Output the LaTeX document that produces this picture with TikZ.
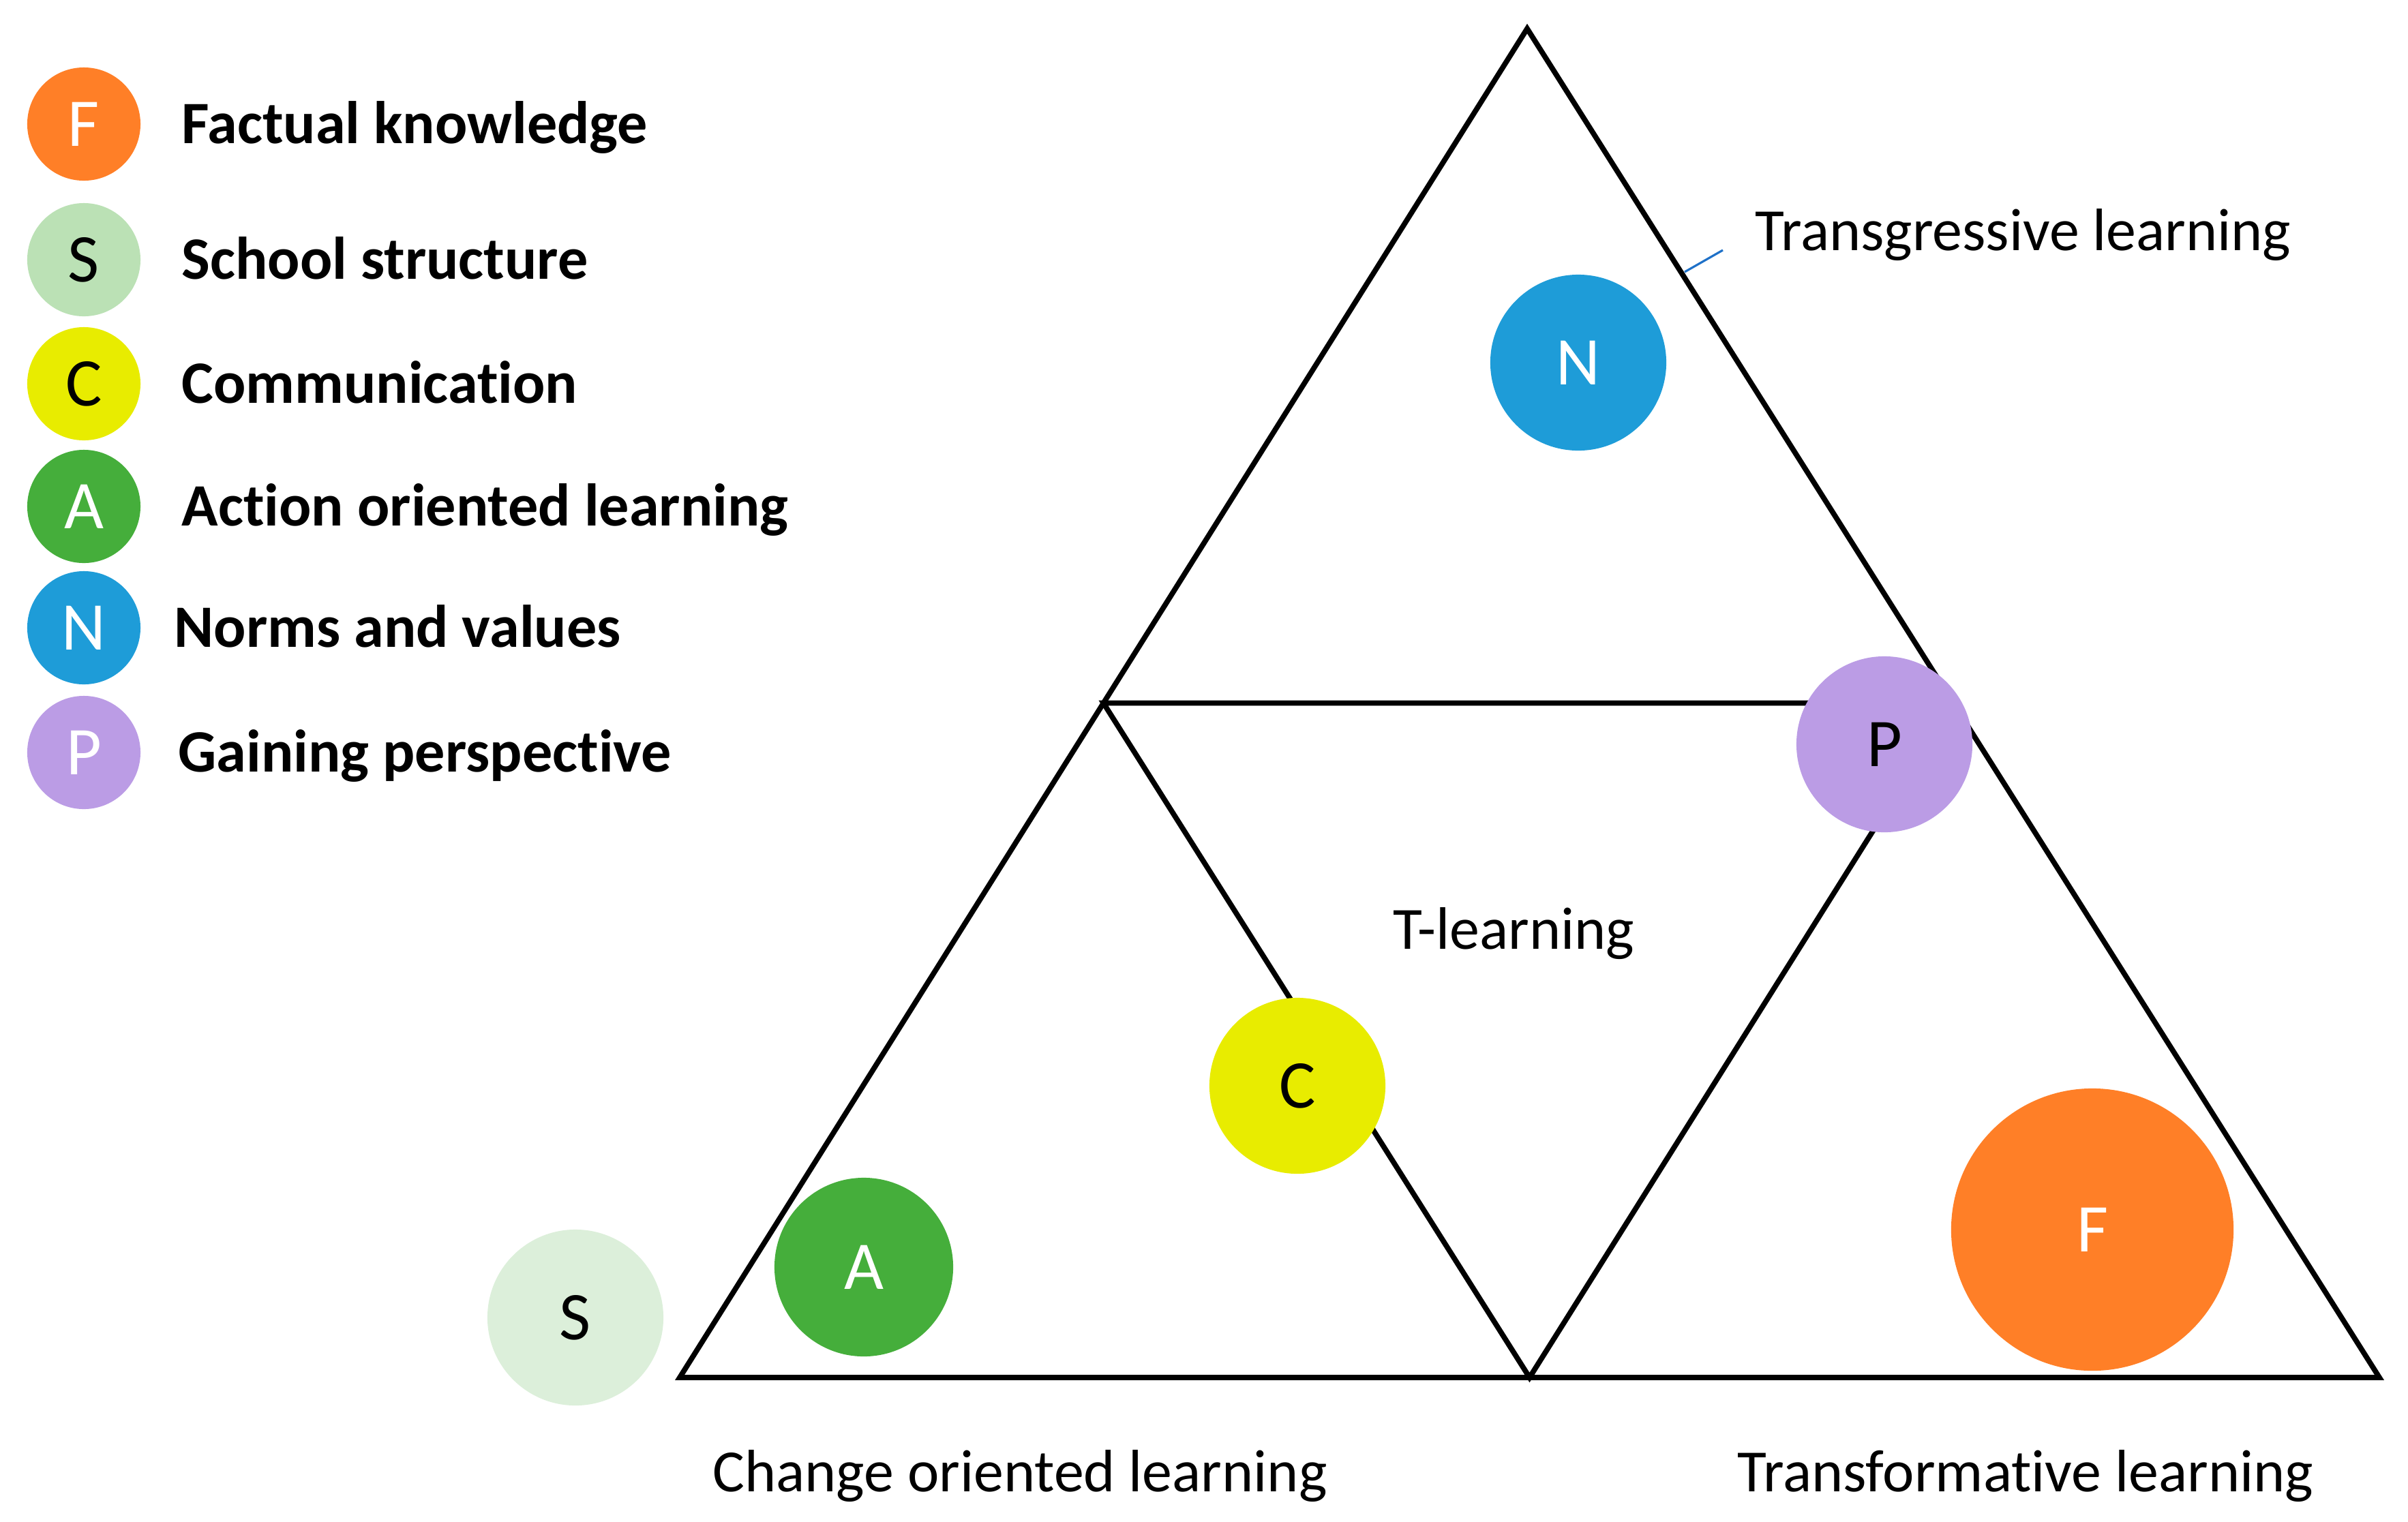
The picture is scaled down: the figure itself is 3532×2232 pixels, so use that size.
\documentclass[tikz,border=0pt]{standalone}
\usepackage{fontspec}
\setmainfont{Carlito}[Ligatures=NoCommon]
\definecolor{forange}{RGB}{255,127,39}
\definecolor{sgreenL}{RGB}{187,225,181}
\definecolor{sgreenP}{RGB}{220,239,218}
\definecolor{cyellow}{RGB}{232,236,0}
\definecolor{agreen}{RGB}{69,174,59}
\definecolor{nblue}{RGB}{30,156,216}
\definecolor{ppurple}{RGB}{187,156,229}
\definecolor{calloutblue}{RGB}{31,113,200}
\begin{document}
\begin{tikzpicture}[x=0.01cm,y=-0.01cm,
  dot/.style={circle, inner sep=0pt, font=\fontsize{28.5pt}{34pt}\selectfont},
  legdot/.style={dot, minimum size=1.66cm},
  lbl/.style={font=\fontsize{25pt}{30pt}\selectfont, inner sep=0pt, anchor=base west},
  legtxt/.style={font=\fontsize{25.1pt}{30pt}\selectfont\bfseries, inner sep=0pt, anchor=base west},
  tri/.style={line width=2.2pt, line join=miter}]
\useasboundingbox (0,0) rectangle (3532,2232);

% triangle geometry
\coordinate (top) at (2240,42);
\coordinate (bl) at (997,2021);
\coordinate (br) at (3490,2021);
\coordinate (ml) at (1618.5,1031.5);
\coordinate (mr) at (2865,1031.5);
\coordinate (bm) at (2243.5,2021);
\draw[tri] (top) -- (bl) -- (br) -- cycle;
\draw[tri] (ml) -- (mr) -- (bm) -- cycle;

% callout line
\coordinate (c1) at (2471,399);
\coordinate (c2) at (2527,367);
\draw[calloutblue, line width=0.9pt] (c1) -- (c2);

% circles in diagram
\node[dot, fill=nblue, text=white, minimum size=2.58cm] (N) at (2315,532) {N};
\node[dot, fill=ppurple, text=black, minimum size=2.58cm] (P) at (2764,1092) {P};
\node[dot, fill=cyellow, text=black, minimum size=2.58cm] (C) at (1903,1593) {C};
\node[dot, fill=agreen, text=white, minimum size=2.62cm] (A) at (1267,1859) {A};
\node[dot, fill=sgreenP, text=black, minimum size=2.58cm] (S) at (844,1933) {S};
\node[dot, fill=forange, text=white, minimum size=4.14cm] (F) at (3069,1804) {F};

% labels
\node[lbl] (tgl) at (2574,367) {Transgressive learning};
\node[lbl] (tl) at (2043,1392) {T-learning};
\node[lbl] (col) at (1045,2188) {Change oriented learning};
\node[lbl] (trl) at (2548,2188) {Transformative learning};

% legend
\node[legdot, fill=forange, text=white] (lF) at (123,182) {F};
\node[legdot, fill=sgreenL, text=black] (lS) at (123,381) {S};
\node[legdot, fill=cyellow, text=black] (lC) at (123,563) {C};
\node[legdot, fill=agreen, text=white] (lA) at (123,743) {A};
\node[legdot, fill=nblue, text=white] (lN) at (123,921) {N};
\node[legdot, fill=ppurple, text=white] (lP) at (123,1104) {P};

\node[legtxt] (tF) at (266,210) {Factual knowledge};
\node[legtxt] (tS) at (266,409) {School structure};
\node[legtxt] (tC) at (266,591) {Communication};
\node[legtxt] (tA) at (266,771) {Action oriented learning};
\node[legtxt] (tN) at (255,949) {Norms and values};
\node[legtxt] (tP) at (261,1132) {Gaining perspective};
\end{tikzpicture}
\end{document}
